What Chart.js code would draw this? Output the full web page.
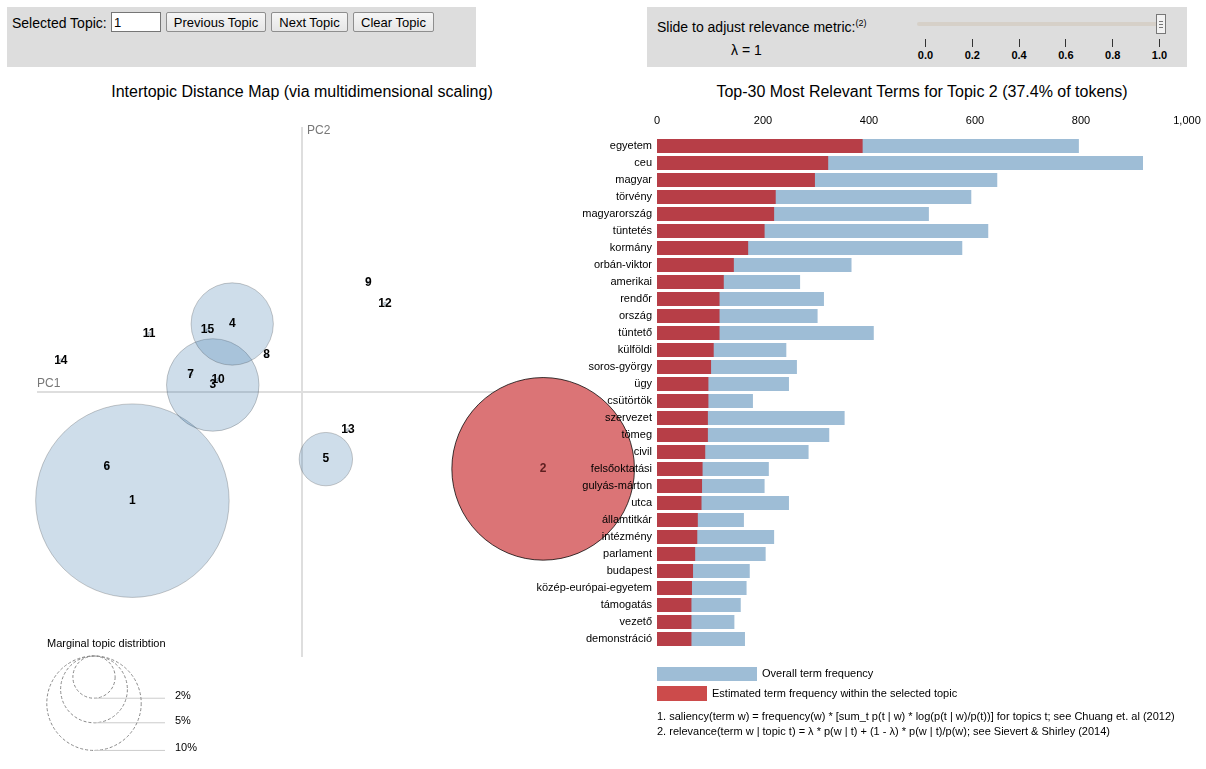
<!DOCTYPE html>
<html>
<head>
<meta charset="utf-8">
<script src="https://cdn.jsdelivr.net/npm/chart.js@4/dist/chart.umd.min.js"></script>
<style>
  html, body { margin:0; padding:0; background:#fff; }
  body { width:1206px; height:769px; position:relative; overflow:hidden; font-family:"Liberation Sans", Arial, sans-serif; color:#000; }
  .abs { position:absolute; }
  .box { background:#dddddd; }
  .btn { position:absolute; top:12px; height:20px; box-sizing:border-box; border:1px solid #8e8e8e; border-radius:2px; background:linear-gradient(#f6f6f6,#e6e6e6); font-size:13px; line-height:19px; text-align:center; }
  .tick { position:absolute; top:39px; width:1px; height:8px; background:#333; }
  .tlab { position:absolute; top:49px; font-size:11px; font-weight:bold; width:30px; margin-left:-15px; text-align:center; }
  .title { position:absolute; top:83px; font-size:16px; white-space:nowrap; }
  canvas { position:absolute; }
</style>
</head>
<body>
<!-- top-left control box -->
<div class="abs box" style="left:7px;top:7px;width:469px;height:60px;"></div>
<div class="abs" style="left:12px;top:15px;font-size:14px;">Selected Topic:</div>
<div class="abs" style="left:111px;top:12px;width:50px;height:20px;box-sizing:border-box;border:1px solid #767676;background:#fff;font-size:13px;line-height:19px;padding-left:2px;">1</div>
<div class="btn" style="left:166px;width:100px;">Previous Topic</div>
<div class="btn" style="left:271px;width:77px;">Next Topic</div>
<div class="btn" style="left:353px;width:81px;">Clear Topic</div>

<!-- top-right slider box -->
<div class="abs box" style="left:647px;top:7px;width:540px;height:60px;"></div>
<div class="abs" style="left:657px;top:18px;font-size:14px;">Slide to adjust relevance metric:<sup style="font-size:9px;">(2)</sup></div>
<div class="abs" style="left:731px;top:42px;font-size:14px;">λ = 1</div>
<div class="abs" style="left:917px;top:22px;width:246px;height:4px;background:#d6d0c8;border-radius:2px;"></div>
<div class="abs" style="left:1156px;top:14px;width:10px;height:20px;box-sizing:border-box;border:1px solid #777;background:#f2f2f2;"></div>
<div class="abs" style="left:1159px;top:21px;width:4px;height:1px;background:#777;"></div>
<div class="abs" style="left:1159px;top:24px;width:4px;height:1px;background:#777;"></div>
<div class="abs" style="left:1159px;top:27px;width:4px;height:1px;background:#777;"></div>
<div id="sliderTicks"></div>

<div class="title" style="left:302px;transform:translateX(-50%);">Intertopic Distance Map (via multidimensional scaling)</div>
<div class="title" style="left:922px;transform:translateX(-50%);">Top-30 Most Relevant Terms for Topic 2 (37.4% of tokens)</div>

<canvas id="mds" style="left:-100px;top:0;"></canvas>
<canvas id="bars" style="left:520px;top:100px;"></canvas>

<!-- bar legend and footnotes -->
<div class="abs" style="left:657px;top:667px;width:100px;height:14px;background:rgb(158,189,214);"></div>
<div class="abs" style="left:762px;top:667px;font-size:11px;">Overall term frequency</div>
<div class="abs" style="left:657px;top:686px;width:50px;height:15px;background:rgb(204,75,75);"></div>
<div class="abs" style="left:712px;top:687px;font-size:11px;">Estimated term frequency within the selected topic</div>
<div class="abs" style="left:657px;top:710px;font-size:11px;white-space:nowrap;">1. saliency(term w) = frequency(w) * [sum_t p(t | w) * log(p(t | w)/p(t))] for topics t; see Chuang et. al (2012)</div>
<div class="abs" style="left:657px;top:725px;font-size:11px;white-space:nowrap;">2. relevance(term w | topic t) = λ * p(w | t) + (1 - λ) * p(w | t)/p(w); see Sievert &amp; Shirley (2014)</div>

<script>
// ---------------- data ----------------
const terms = ["egyetem","ceu","magyar","törvény","magyarország","tüntetés","kormány","orbán-viktor","amerikai","rendőr","ország","tüntető","külföldi","soros-györgy","ügy","csütörtök","szervezet","tömeg","civil","felsőoktatási","gulyás-márton","utca","államtitkár","intézmény","parlament","budapest","közép-európai-egyetem","támogatás","vezető","demonstráció"];
const overallFreq = [796,917,642,593,513,625,576,367,270,315,303,409,244,264,249,181,354,325,286,211,203,249,164,221,205,175,169,158,146,166];
const topicFreq = [388,323,298,224,221,203,172,145,126,118,118,118,107,102,97,97,96,96,91,86,85,84,77,76,72,68,66,65,65,65];
const barTicks = [0,200,400,600,800,1000];

const topicIds = [1,2,3,4,5,6,7,8,9,10,11,12,13,14,15];
const topicPC1 = [-0.192,0.273,-0.101,-0.079,0.027,-0.221,-0.126,-0.040,0.075,-0.095,-0.173,0.094,0.052,-0.273,-0.107];
const topicPC2 = [-0.123,-0.087,0.008,0.077,-0.076,-0.084,0.020,0.042,0.124,0.014,0.066,0.100,-0.043,0.036,0.070];
const topicShare = [42.0,37.4,9.6,7.6,3.2,0.01,0.01,0.01,0.01,0.01,0.01,0.01,0.01,0.01,0.01]; // % of tokens
const selectedTopic = 2;
const legendShares = [2,5,10];
const sliderTicks = [0.0,0.2,0.4,0.6,0.8,1.0];

// slider ticks
(function(){
  const host = document.getElementById('sliderTicks');
  sliderTicks.forEach(v => {
    const x = 925 + v * 234;
    const t = document.createElement('div'); t.className='tick'; t.style.left = x+'px'; host.appendChild(t);
    const l = document.createElement('div'); l.className='tlab'; l.style.left = (x+0.5)+'px'; l.textContent = v.toFixed(1); host.appendChild(l);
  });
})();

const FONT = '"Liberation Sans", Arial, sans-serif';
Chart.defaults.font.family = FONT;
Chart.defaults.color = '#000';

// ---------------- MDS bubble chart ----------------
const OFFX = 100;
const K = 14.93; // px radius per sqrt(percent)
const mdsCanvas = document.getElementById('mds');
mdsCanvas.width = 770; mdsCanvas.height = 769;
mdsCanvas.style.width = '770px'; mdsCanvas.style.height = '769px';

const mdsPlugin = {
  id: 'mdsExtras',
  beforeDatasetsDraw(chart) {
    const {ctx, scales:{x, y}} = chart;
    const x0 = x.getPixelForValue(0), y0 = y.getPixelForValue(0);
    ctx.save();
    ctx.strokeStyle = 'rgba(200,200,200,0.6)';
    ctx.lineWidth = 2;
    ctx.beginPath();
    ctx.moveTo(x.left, y0); ctx.lineTo(x.right, y0);
    ctx.moveTo(x0, y.top); ctx.lineTo(x0, y.bottom);
    ctx.stroke();
    ctx.fillStyle = '#777';
    ctx.font = '12px ' + FONT;
    ctx.textBaseline = 'alphabetic';
    ctx.textAlign = 'left';
    ctx.fillText('PC1', x.left, y0 - 5);
    ctx.fillText('PC2', x0 + 5, y.top + 7);
    ctx.restore();
  },
  afterDatasetsDraw(chart) {
    const {ctx} = chart;
    const meta = chart.getDatasetMeta(0);
    ctx.save();
    ctx.font = 'bold 12px ' + FONT;
    ctx.textAlign = 'center';
    ctx.textBaseline = 'middle';
    meta.data.forEach((pt, i) => {
      ctx.fillStyle = topicIds[i] === selectedTopic ? '#5e1f20' : '#000';
      ctx.fillText(String(topicIds[i]), pt.x, pt.y);
    });
    ctx.font = '11px ' + FONT;
    ctx.textAlign = 'left';
    ctx.fillStyle = '#000';
    ctx.fillText('Marginal topic distribtion', 47 + OFFX, 644);
    const cx = 94 + OFFX, top = 656;
    legendShares.forEach(s => {
      const r = K * Math.sqrt(s);
      ctx.setLineDash([3,2]);
      ctx.strokeStyle = '#888';
      ctx.lineWidth = 1;
      ctx.beginPath(); ctx.arc(cx, top + r, r, 0, Math.PI*2); ctx.stroke();
      ctx.setLineDash([]);
      ctx.strokeStyle = '#ccc';
      ctx.beginPath(); ctx.moveTo(cx, top + 2*r); ctx.lineTo(165 + OFFX, top + 2*r); ctx.stroke();
      ctx.fillStyle = '#000';
      ctx.fillText(s + '%', 175 + OFFX, top + 2*r - 2);
    });
    ctx.restore();
  }
};

new Chart(mdsCanvas, {
  type: 'bubble',
  data: {
    datasets: [{
      data: topicIds.map((id, i) => ({x: topicPC1[i], y: topicPC2[i], r: K * Math.sqrt(topicShare[i])})),
      backgroundColor: topicIds.map(id => id === selectedTopic ? 'rgb(219,116,118)' : 'rgba(31,100,160,0.22)'),
      borderColor: topicIds.map(id => id === selectedTopic ? 'rgba(0,0,0,0.75)' : 'rgba(0,0,0,0.2)'),
      borderWidth: 1,
      clip: false
    }]
  },
  options: {
    responsive: false,
    animation: false,
    events: [],
    layout: { padding: { left: 137, top: 127, right: 103, bottom: 112 } },
    plugins: { legend: { display: false }, tooltip: { enabled: false } },
    scales: {
      x: { type: 'linear', min: -0.3, max: 0.3, display: false },
      y: { type: 'linear', min: -0.3, max: 0.3, display: false }
    }
  },
  plugins: [mdsPlugin]
});

// ---------------- bar chart ----------------
const barCanvas = document.getElementById('bars');
barCanvas.width = 686; barCanvas.height = 560;
barCanvas.style.width = '686px'; barCanvas.style.height = '560px';

new Chart(barCanvas, {
  type: 'bar',
  data: {
    labels: terms,
    datasets: [
      { label: 'Estimated term frequency within the selected topic', data: topicFreq, backgroundColor: 'rgb(183,62,71)', grouped: false, order: 0, categoryPercentage: 1, barPercentage: 0.82 },
      { label: 'Overall term frequency', data: overallFreq, backgroundColor: 'rgb(158,189,214)', grouped: false, order: 1, categoryPercentage: 1, barPercentage: 0.82 }
    ]
  },
  options: {
    indexAxis: 'y',
    responsive: false,
    animation: false,
    events: [],
    layout: { padding: { left: 0, top: 0, right: 19, bottom: 12.5 } },
    plugins: { legend: { display: false }, tooltip: { enabled: false } },
    scales: {
      x: {
        position: 'top', min: 0, max: 1000,
        afterBuildTicks: s => { s.ticks = barTicks.map(v => ({value: v})); },
        afterFit: s => { s.height = 37.5; s.paddingLeft = 0; s.paddingRight = 0; },
        grid: { display: false, drawTicks: false },
        border: { display: false },
        ticks: { font: { size: 11 }, color: '#000', padding: 10, maxRotation: 0 }
      },
      y: {
        afterFit: s => { s.width = 137; s.paddingTop = 0; s.paddingBottom = 0; },
        grid: { display: false, drawTicks: false },
        border: { display: false },
        ticks: { font: { size: 11 }, color: '#000', padding: 5, autoSkip: false }
      }
    }
  }
});
</script>
</body>
</html>
